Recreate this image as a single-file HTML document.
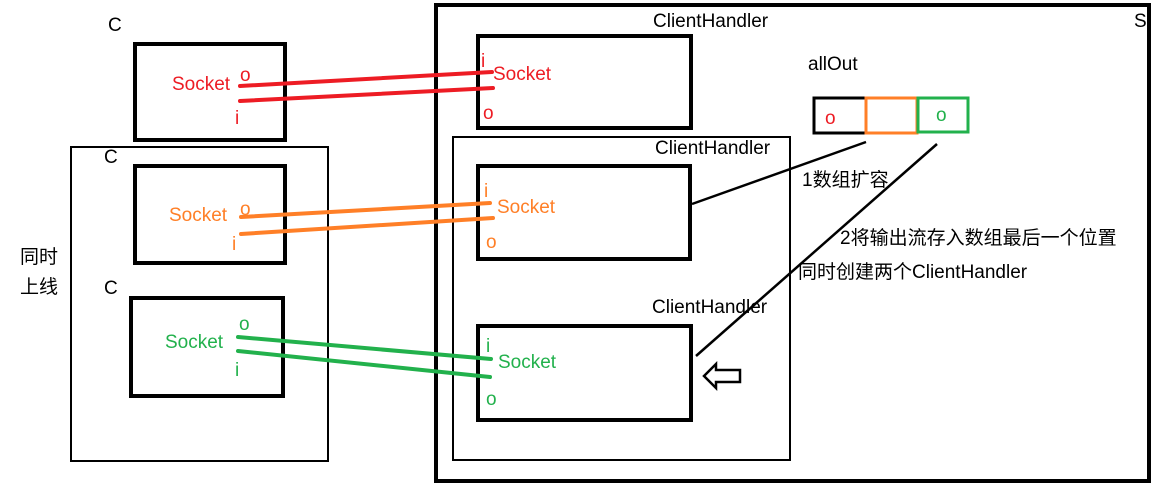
<!DOCTYPE html>
<html><head><meta charset="utf-8"><style>
html,body{margin:0;padding:0;background:#fff;width:1154px;height:488px;overflow:hidden}
text{font-family:"Liberation Sans","Noto Sans CJK SC",sans-serif;font-size:19px}
</style></head><body>
<svg width="1154" height="488" viewBox="0 0 1154 488" xmlns="http://www.w3.org/2000/svg">
<g fill="none" stroke="#000">
<rect x="135" y="44" width="150" height="96" stroke-width="4"/>
<rect x="71" y="147" width="257" height="314" stroke-width="2"/>
<rect x="135" y="166" width="150" height="97" stroke-width="4"/>
<rect x="131" y="298" width="152" height="98" stroke-width="4"/>
<rect x="436" y="5" width="713" height="476" stroke-width="4"/>
<rect x="478" y="36" width="213" height="92" stroke-width="4"/>
<rect x="453" y="137" width="337" height="323" stroke-width="2"/>
<rect x="478" y="166" width="212" height="93" stroke-width="4"/>
<rect x="478" y="326" width="213" height="94" stroke-width="4"/>
<line x1="866" y1="142" x2="692" y2="204" stroke-width="2.5"/>
<line x1="937" y1="144" x2="696" y2="356" stroke-width="2.5"/>
<polygon points="704,376 716,364 716,370 740,370 740,382 716,382 716,388" stroke-width="2.5"/>
<rect x="814" y="98" width="52" height="35" stroke-width="3"/>
</g>
<rect x="866" y="98" width="51" height="35" fill="none" stroke="#ff7f27" stroke-width="3"/>
<rect x="918" y="98" width="50" height="34" fill="none" stroke="#22b14c" stroke-width="3"/>
<rect x="645" y="10" width="140" height="24" fill="#fff"/>
<g fill="#000">
<text x="108" y="31">C</text>
<text x="104" y="163">C</text>
<text x="104" y="294">C</text>
<text x="20" y="263">同时</text>
<text x="20" y="293">上线</text>
<text x="1134" y="27">S</text>
<text x="653" y="27">ClientHandler</text>
<text x="655" y="154">ClientHandler</text>
<text x="652" y="313">ClientHandler</text>
<text x="808" y="70">allOut</text>
<text x="802" y="186">1数组扩容</text>
<text x="840" y="244">2将输出流存入数组最后一个位置</text>
<text x="798" y="278">同时创建两个ClientHandler</text>
</g>
<g stroke-width="4" stroke-linecap="round">
<line x1="240" y1="86" x2="492" y2="72" stroke="#ed1c24"/>
<line x1="240" y1="101" x2="493" y2="88" stroke="#ed1c24"/>
<line x1="241" y1="217" x2="490" y2="203" stroke="#ff7f27"/>
<line x1="241" y1="234" x2="493" y2="218" stroke="#ff7f27"/>
<line x1="238" y1="337" x2="491" y2="359" stroke="#22b14c"/>
<line x1="238" y1="351" x2="490" y2="377" stroke="#22b14c"/>
</g>
<g fill="#ed1c24">
<text x="172" y="90">Socket</text><text x="240" y="81">o</text><text x="235" y="124">i</text>
<text x="481" y="67">i</text><text x="493" y="80">Socket</text><text x="483" y="119">o</text>
<text x="825" y="124">o</text>
</g>
<g fill="#ff7f27">
<text x="169" y="221">Socket</text><text x="240" y="215">o</text><text x="232" y="250">i</text>
<text x="484" y="197">i</text><text x="497" y="213">Socket</text><text x="486" y="248">o</text>
</g>
<g fill="#22b14c">
<text x="165" y="348">Socket</text><text x="239" y="330">o</text><text x="235" y="376">i</text>
<text x="486" y="352">i</text><text x="498" y="368">Socket</text><text x="486" y="405">o</text>
<text x="936" y="121">o</text>
</g>
</svg>
</body></html>
